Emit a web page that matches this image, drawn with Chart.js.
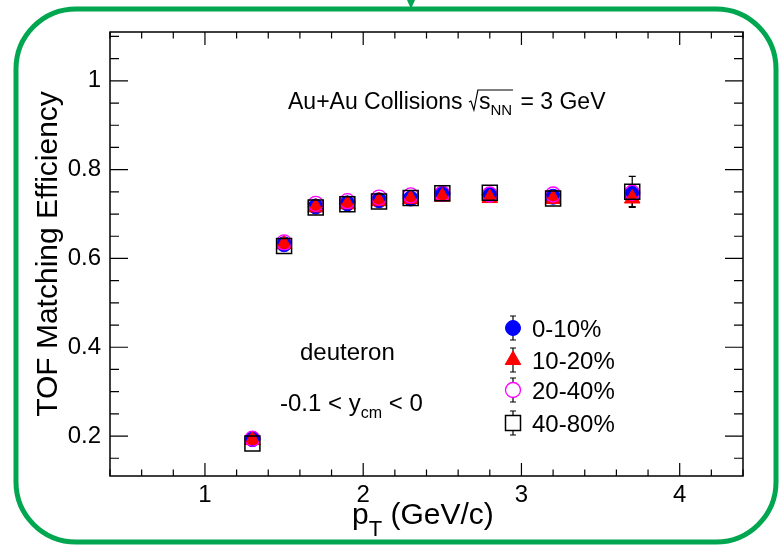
<!DOCTYPE html>
<html>
<head>
<meta charset="utf-8">
<script src="https://cdn.jsdelivr.net/npm/chart.js@4.4.0/dist/chart.umd.min.js"></script>
<style>
  html, body { margin: 0; padding: 0; background: #fff; }
  #wrap { position: relative; width: 781px; height: 548px; }
</style>
</head>
<body>
<div id="wrap"><canvas id="effChart" width="781" height="548"></canvas></div>
<script>
// pT bin centres (GeV/c)
const ptBins = [1.3, 1.5, 1.7, 1.9, 2.1, 2.3, 2.5, 2.8, 3.2, 3.7];

// TOF matching efficiency per centrality class
const eff0to10  = [0.193, 0.632, 0.717, 0.724, 0.731, 0.735, 0.745, 0.743, 0.739, 0.745];
const eff10to20 = [0.191, 0.632, 0.715, 0.722, 0.729, 0.734, 0.739, 0.736, 0.734, 0.735];
const eff20to40 = [0.194, 0.636, 0.723, 0.729, 0.737, 0.742, 0.746, 0.744, 0.744, 0.748];
const eff40to80 = [0.183, 0.628, 0.715, 0.722, 0.728, 0.736, 0.747, 0.748, 0.735, 0.750];

// statistical errors
const err0to10  = [0.004, 0.004, 0.004, 0.004, 0.004, 0.004, 0.004, 0.005, 0.006, 0.014];
const err10to20 = [0.004, 0.004, 0.004, 0.004, 0.004, 0.004, 0.004, 0.005, 0.006, 0.018];
const err20to40 = [0.004, 0.004, 0.004, 0.004, 0.004, 0.004, 0.004, 0.005, 0.006, 0.015];
const err40to80 = [0.004, 0.004, 0.004, 0.004, 0.004, 0.004, 0.004, 0.005, 0.006, 0.035];

const centLabels = ["0-10%", "10-20%", "20-40%", "40-80%"];

// axis ticks
const xMajor = [1, 2, 3, 4];
const xMinor = [0.4, 0.6, 0.8, 1.2, 1.4, 1.6, 1.8, 2.2, 2.4, 2.6, 2.8, 3.2, 3.4, 3.6, 3.8, 4.2, 4.4];
const yMajor = [0.2, 0.4, 0.6, 0.8, 1];
const yMinor = [0.15, 0.25, 0.3, 0.35, 0.45, 0.5, 0.55, 0.65, 0.7, 0.75, 0.85, 0.9, 0.95, 1.05, 1.1];

const FONT = '"Liberation Sans", Arial, Helvetica, sans-serif';

function toPoints(vals, errs) {
  return ptBins.map((x, i) => ({ x: x, y: vals[i], err: errs[i] }));
}

// error bars with small caps, drawn under the markers
const errorBars = {
  id: "errorBars",
  beforeDatasetsDraw(chart) {
    const ctx = chart.ctx;
    const xs = chart.scales.x, ys = chart.scales.y;
    ctx.save();
    ctx.strokeStyle = "#000";
    ctx.lineWidth = 1.2;
    chart.data.datasets.forEach((ds) => {
      ds.data.forEach((p) => {
        const px = xs.getPixelForValue(p.x);
        const top = ys.getPixelForValue(p.y + p.err);
        const bot = ys.getPixelForValue(p.y - p.err);
        ctx.beginPath();
        ctx.moveTo(px, top); ctx.lineTo(px, bot);
        ctx.moveTo(px - 3.5, top); ctx.lineTo(px + 3.5, top);
        ctx.moveTo(px - 3.5, bot); ctx.lineTo(px + 3.5, bot);
        ctx.stroke();
      });
    });
    ctx.restore();
  }
};

// ROOT style frame with inward ticks on all four sides
const rootFrame = {
  id: "rootFrame",
  afterDatasetsDraw(chart) {
    const ctx = chart.ctx;
    const a = chart.chartArea;
    const xs = chart.scales.x, ys = chart.scales.y;
    ctx.save();
    ctx.strokeStyle = "#000";
    ctx.lineWidth = 1.5;
    ctx.strokeRect(a.left, a.top, a.right - a.left, a.bottom - a.top);
    ctx.lineWidth = 1.2;
    ctx.beginPath();
    const xTick = (v, len) => {
      const px = xs.getPixelForValue(v);
      ctx.moveTo(px, a.bottom); ctx.lineTo(px, a.bottom - len);
      ctx.moveTo(px, a.top); ctx.lineTo(px, a.top + len);
    };
    const yTick = (v, len) => {
      const py = ys.getPixelForValue(v);
      ctx.moveTo(a.left, py); ctx.lineTo(a.left + len, py);
      ctx.moveTo(a.right, py); ctx.lineTo(a.right - len, py);
    };
    xMajor.forEach((v) => xTick(v, 13));
    xMinor.forEach((v) => xTick(v, 6.5));
    yMajor.forEach((v) => yTick(v, 18));
    yMinor.forEach((v) => yTick(v, 9));
    ctx.stroke();
    ctx.restore();
  }
};

function drawSub(ctx, parts, x, y) {
  // parts: [text, size, dy]
  parts.forEach(([t, size, dy]) => {
    ctx.font = size + "px " + FONT;
    ctx.fillText(t, x, y + dy);
    x += ctx.measureText(t).width;
  });
  return x;
}

// titles, labels, legend and the outer slide frame
const annotations = {
  id: "annotations",
  afterDraw(chart) {
    const ctx = chart.ctx;
    ctx.save();
    ctx.fillStyle = "#000";
    ctx.textBaseline = "alphabetic";
    ctx.textAlign = "left";

    // y title
    ctx.save();
    ctx.translate(57, 254);
    ctx.rotate(-Math.PI / 2);
    ctx.textAlign = "center";
    ctx.font = "30px " + FONT;
    ctx.fillText("TOF Matching Efficiency", 0, 0);
    ctx.restore();

    // x title
    drawSub(ctx, [["p", 30, 0], ["T", 22, 12], [" (GeV/c)", 30, 0]], 352, 524);

    // energy label with radical
    let x = drawSub(ctx, [["Au+Au Collisions ", 23, 0]], 288, 109);
    const b = 109;
    ctx.strokeStyle = "#000";
    ctx.lineWidth = 1.2;
    ctx.beginPath();
    ctx.moveTo(x, b - 7);
    ctx.lineTo(x + 2, b - 8);
    ctx.lineTo(x + 5, b + 1);
    ctx.lineTo(x + 9, b - 19);
    const sx = x + 10;
    ctx.font = "23px " + FONT;
    ctx.fillText("s", sx, b);
    let ex = sx + ctx.measureText("s").width;
    ctx.font = "15px " + FONT;
    ctx.fillText("NN", ex, b + 6);
    ex += ctx.measureText("NN").width;
    ctx.lineTo(ex + 1, b - 19);
    ctx.stroke();
    drawSub(ctx, [[" = 3 GeV", 23, 0]], ex + 2, b);

    // particle and rapidity
    drawSub(ctx, [["deuteron", 24, 0]], 300, 360);
    drawSub(ctx, [["-0.1 < y", 24, 0], ["cm", 16, 7], [" < 0", 24, 0]], 280, 411);

    // legend
    const ds = chart.data.datasets;
    const lx = 513;
    const rows = [328, 360, 390, 423];
    rows.forEach((ry, i) => {
      const d = ds[i];
      ctx.strokeStyle = "#000";
      ctx.lineWidth = 1.2;
      ctx.beginPath();
      ctx.moveTo(lx, ry - 12); ctx.lineTo(lx, ry + 12);
      ctx.moveTo(lx - 3, ry - 12); ctx.lineTo(lx + 3, ry - 12);
      ctx.moveTo(lx - 3, ry + 12); ctx.lineTo(lx + 3, ry + 12);
      ctx.stroke();
      ctx.strokeStyle = d.borderColor;
      ctx.lineWidth = d.borderWidth;
      ctx.beginPath();
      if (d.pointStyle === "circle") {
        ctx.arc(lx, ry, d.pointRadius, 0, Math.PI * 2);
      } else if (d.pointStyle === "triangle") {
        const r = d.pointRadius;
        ctx.moveTo(lx, ry - r);
        ctx.lineTo(lx + r * 0.866, ry + r / 2);
        ctx.lineTo(lx - r * 0.866, ry + r / 2);
        ctx.closePath();
      } else {
        const h = d.pointRadius * Math.SQRT1_2;
        ctx.rect(lx - h, ry - h, 2 * h, 2 * h);
      }
      ctx.fillStyle = d.backgroundColor === "rgba(0,0,0,0)" ? "#fff" : d.backgroundColor;
      ctx.fill();
      ctx.stroke();
      ctx.fillStyle = "#000";
      ctx.font = "24px " + FONT;
      ctx.fillText(d.label, 532, ry + 9);
    });

    // green slide frame
    ctx.strokeStyle = "#00a650";
    ctx.lineWidth = 5;
    ctx.beginPath();
    ctx.roundRect(16, 9, 760, 533, 60);
    ctx.stroke();
    ctx.fillStyle = "#00a650";
    ctx.beginPath();
    ctx.moveTo(407, 0); ctx.lineTo(415, 0); ctx.lineTo(411, 9);
    ctx.closePath();
    ctx.fill();
    ctx.restore();
  }
};

const ctx = document.getElementById("effChart").getContext("2d");
new Chart(ctx, {
  type: "scatter",
  data: {
    datasets: [
      {
        label: centLabels[0],
        data: toPoints(eff0to10, err0to10),
        pointStyle: "circle", pointRadius: 7.5,
        backgroundColor: "#0000ff", borderColor: "#0000ff", borderWidth: 1,
        order: 4
      },
      {
        label: centLabels[1],
        data: toPoints(eff10to20, err10to20),
        pointStyle: "triangle", pointRadius: 9,
        backgroundColor: "#ff0000", borderColor: "#ff0000", borderWidth: 1,
        order: 3
      },
      {
        label: centLabels[2],
        data: toPoints(eff20to40, err20to40),
        pointStyle: "circle", pointRadius: 7.5,
        backgroundColor: "rgba(0,0,0,0)", borderColor: "#ff00ff", borderWidth: 1.3,
        order: 2
      },
      {
        label: centLabels[3],
        data: toPoints(eff40to80, err40to80),
        pointStyle: "rect", pointRadius: 10.6,
        backgroundColor: "rgba(0,0,0,0)", borderColor: "#000000", borderWidth: 1.5,
        order: 1
      }
    ]
  },
  options: {
    responsive: false,
    animation: false,
    events: [],
    layout: { padding: { left: 0, right: 38, top: 32, bottom: 0 } },
    plugins: {
      legend: { display: false },
      tooltip: { enabled: false }
    },
    elements: { point: { hoverRadius: 0 } },
    scales: {
      x: {
        type: "linear",
        min: 0.4,
        max: 4.4,
        afterBuildTicks: (s) => { s.ticks = xMajor.map((v) => ({ value: v })); },
        afterFit: (s) => { s.height = 72; },
        grid: { display: false, drawTicks: false, tickLength: 0 },
        border: { display: false },
        ticks: {
          color: "#000",
          padding: 5,
          font: { family: FONT, size: 24 },
          callback: (v) => String(v)
        }
      },
      y: {
        type: "linear",
        min: 0.11,
        max: 1.11,
        afterBuildTicks: (s) => { s.ticks = yMajor.map((v) => ({ value: v })); },
        afterFit: (s) => { s.width = 110; },
        grid: { display: false, drawTicks: false, tickLength: 0 },
        border: { display: false },
        ticks: {
          color: "#000",
          padding: 9,
          font: { family: FONT, size: 24 },
          callback: (v) => String(v)
        }
      }
    }
  },
  plugins: [errorBars, rootFrame, annotations]
});
</script>
</body>
</html>
